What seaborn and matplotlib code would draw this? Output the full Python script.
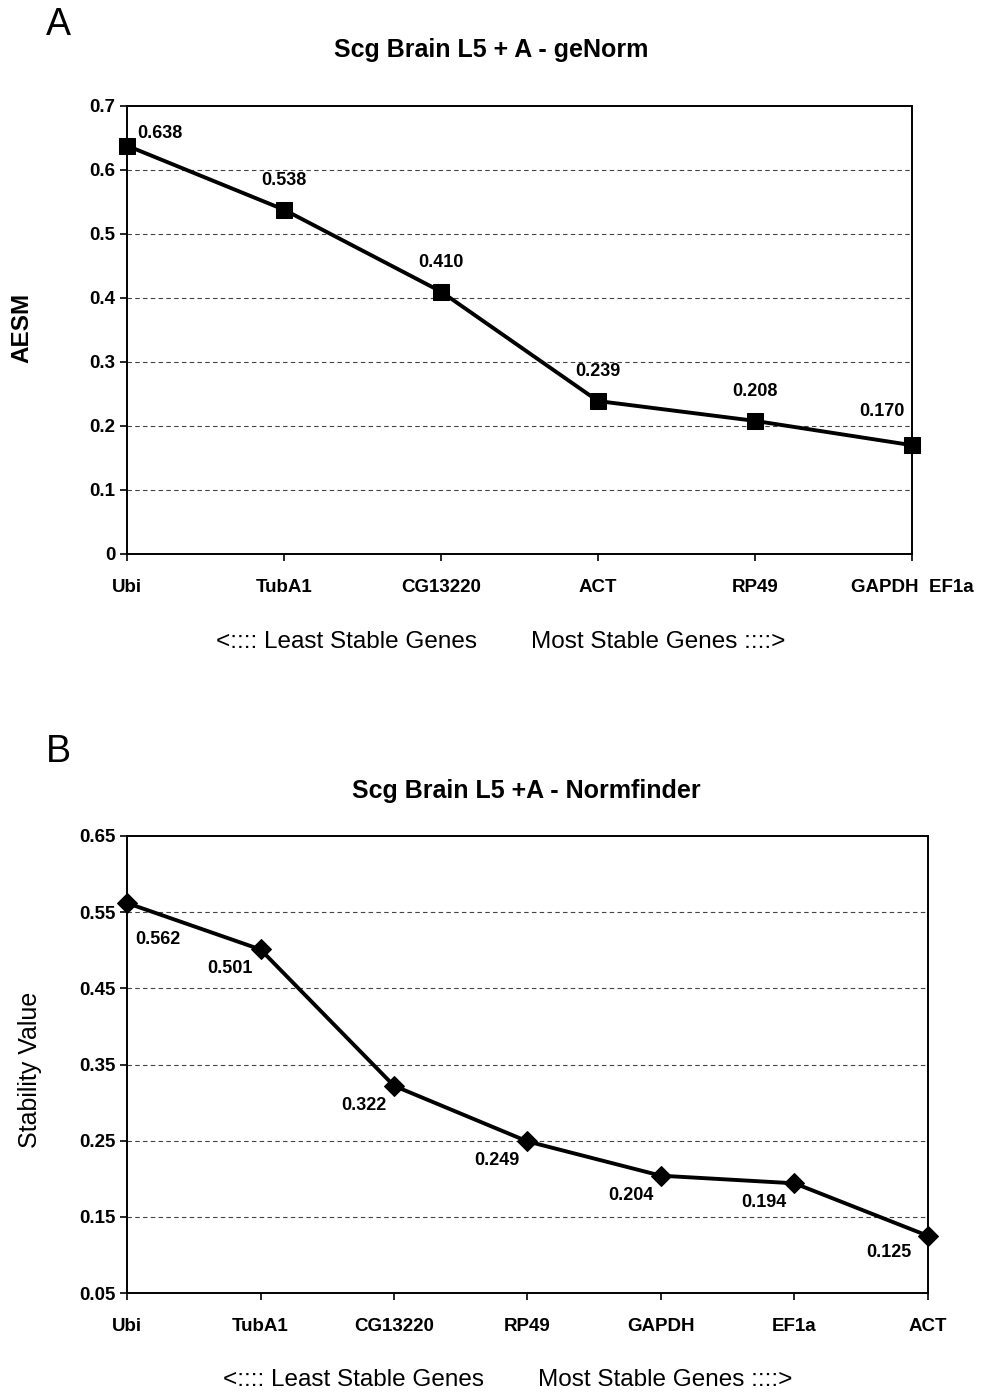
import pandas as pd
import matplotlib
matplotlib.use("Agg")
import matplotlib.pyplot as plt
import seaborn as sns

sns.set_theme(style="white")
plt.rcParams['font.family'] = ['Liberation Sans', 'DejaVu Sans']
plt.rcParams['text.color'] = 'black'
plt.rcParams['xtick.color'] = 'black'
plt.rcParams['ytick.color'] = 'black'

# panel A - geNorm
genes_a = ["Ubi", "TubA1", "CG13220", "ACT", "RP49", "GAPDH  EF1a"]
aesm = [0.638, 0.538, 0.410, 0.239, 0.208, 0.170]

# panel B - Normfinder
genes_b = ["Ubi", "TubA1", "CG13220", "RP49", "GAPDH", "EF1a", "ACT"]
stability = [0.562, 0.501, 0.322, 0.249, 0.204, 0.194, 0.125]

df_a = pd.DataFrame({"Gene": genes_a, "AESM": aesm})
df_b = pd.DataFrame({"Gene": genes_b, "Stability": stability})

W, H = 984, 1395
fig = plt.figure(figsize=(W / 100, H / 100), dpi=100)

ax1 = fig.add_axes([127 / W, 1 - 554 / H, (912 - 127) / W, (554 - 106) / H])
ax2 = fig.add_axes([127 / W, 1 - 1293 / H, (928 - 127) / W, (1293 - 836) / H])

sns.lineplot(data=df_a, x="Gene", y="AESM", sort=False, ax=ax1, color="black",
             lw=2.8, marker="s", markersize=12, markeredgecolor="black", clip_on=False)
sns.lineplot(data=df_b, x="Gene", y="Stability", sort=False, ax=ax2, color="black",
             lw=2.8, marker="D", markersize=10, markeredgecolor="black", clip_on=False)

def style_axis(ax, ylo, yhi, ticks, labels, n):
    ax.set_ylim(ylo, yhi)
    ax.set_xlim(0, n - 1)
    ax.set_yticks(ticks)
    ax.set_yticklabels(labels)
    for s in ax.spines.values():
        s.set_color("black")
        s.set_linewidth(1.4)
        s.set_visible(True)
    ax.tick_params(axis="both", direction="out", length=5, width=1.2, colors="black",
                   labelsize=13.5, bottom=True, left=True)
    ax.tick_params(axis="x", pad=13)
    for lab in ax.get_xticklabels() + ax.get_yticklabels():
        lab.set_fontweight("bold")
    for t in ticks[1:-1]:
        ax.axhline(t, color="#444444", lw=0.8, ls=(0, (4, 3)), zorder=0)
    ax.set_xlabel("")
    ax.set_ylabel("")

style_axis(ax1, 0, 0.7, [0, 0.1, 0.2, 0.3, 0.4, 0.5, 0.6, 0.7],
           ["0", "0.1", "0.2", "0.3", "0.4", "0.5", "0.6", "0.7"], len(genes_a))
style_axis(ax2, 0.05, 0.65, [0.05, 0.15, 0.25, 0.35, 0.45, 0.55, 0.65],
           ["0.05", "0.15", "0.25", "0.35", "0.45", "0.55", "0.65"], len(genes_b))

# data labels
for i, v in enumerate(aesm):
    if i == 0:
        off = (24, 9)
    elif i == len(aesm) - 1:
        off = (-22, 24)
    else:
        off = (0, 21)
    ax1.annotate(f"{v:.3f}", (i, v), textcoords="offset points", xytext=off,
                 ha="center", va="center", fontsize=13, fontweight="bold")
for i, v in enumerate(stability):
    if i == 0:
        off = (22, -26)
    elif i == len(stability) - 1:
        off = (-28, -12)
    else:
        off = (-22, -14)
    ax2.annotate(f"{v:.3f}", (i, v), textcoords="offset points", xytext=off,
                 ha="center", va="center", fontsize=13, fontweight="bold")

# titles, axis labels, panel letters
arrow_text = "<:::: Least Stable Genes        Most Stable Genes ::::>"
fig.text(58 / W, 1 - 25 / H, "A", fontsize=27, ha="center", va="center")
fig.text(491 / W, 1 - 50 / H, "Scg Brain L5 + A - geNorm", fontsize=18,
         fontweight="bold", ha="center", va="center")
fig.text(22 / W, 1 - 328 / H, "AESM", fontsize=17.5, fontweight="bold",
         rotation=90, ha="center", va="center")
fig.text(501 / W, 1 - 642 / H, arrow_text, fontsize=17.5, ha="center", va="center")

fig.text(58 / W, 1 - 752 / H, "B", fontsize=27, ha="center", va="center")
fig.text(526 / W, 1 - 791 / H, "Scg Brain L5 +A - Normfinder", fontsize=18,
         fontweight="bold", ha="center", va="center")
fig.text(30 / W, 1 - 1070 / H, "Stability Value", fontsize=18,
         rotation=90, ha="center", va="center")
fig.text(508 / W, 1 - 1380 / H, arrow_text, fontsize=17.5, ha="center", va="center")

fig.savefig("out.png", dpi=100, facecolor="white")
